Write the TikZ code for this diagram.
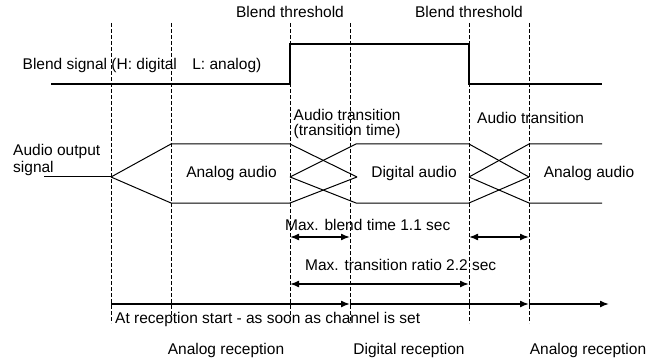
\documentclass[tikz,border=0pt]{standalone}
\usepackage{fontspec}
\setmainfont{Liberation Sans}
\usepackage{tikz}
\usetikzlibrary{arrows.meta,positioning}

\begin{document}
\begin{tikzpicture}[x=1pt,y=1pt,yscale=-1,
  font=\fontsize{15.5}{16}\selectfont,
  every node/.style={inner sep=0pt},
  guide/.style={dash pattern=on 4pt off 2pt,line width=0.8pt},
  blend/.style={line width=2.8pt},
  audio/.style={line width=1pt},
  span/.style={line width=1.5pt,{Latex[length=9pt,width=7pt]}-{Latex[length=9pt,width=7pt]}},
  time/.style={line width=1.5pt,-{Latex[length=9pt,width=7pt]}}]
\useasboundingbox (0,0) rectangle (658,358);

%Straight Lines [guides]
\draw [guide] (111,23) -- (111,323) ;
\draw [guide] (171,23) -- (171,323) ;
\draw [guide] (290,23) -- (290,323) ;
\draw [guide] (350,23) -- (350,323) ;
\draw [guide] (469,23) -- (469,323) ;
\draw [guide] (529,23) -- (529,323) ;

%Shape: Blend signal
\draw [blend] (51,84) -- (290,84) -- (290,44) -- (469,44) -- (469,84) -- (602,84) ;

%Shape: Analog audio (start)
\draw [audio] (44,177) -- (111,177) ;
\draw [audio] (111,177) -- (171,144) -- (290,144) -- (357,177) ;
\draw [audio] (111,177) -- (171,203) -- (290,203) -- (357,177) ;
%Shape: Digital audio
\draw [audio] (290,177) -- (356,144) -- (469,144) -- (529,177) ;
\draw [audio] (290,177) -- (356,203) -- (469,203) -- (529,177) ;
%Shape: Analog audio (end)
\draw [audio] (469,177) -- (529,144) -- (602,144) ;
\draw [audio] (469,177) -- (529,203) -- (602,203) ;

%Arrows
\draw [span] (290,237) -- (350,237) ;
\draw [span] (469,237) -- (529,237) ;
\draw [span] (290,284) -- (469,284) ;
\draw [time] (111,304) -- (350,304) ;
\draw [time] (350,304) -- (529,304) ;
\draw [time] (529,304) -- (609,304) ;

% Text Node
\draw (290,18) node (thrOn) [anchor=base] {Blend threshold};
\draw (469,18) node (thrOff) [anchor=base] {Blend threshold};
\draw (22.5,70) node (blendLbl) [anchor=base west] {Blend signal (H: digital\hspace{1em}L: analog)};
\draw (13,156) node (outLbl) [anchor=base west] {Audio output};
\draw (13,172) node (outLbl2) [anchor=base west] {signal};
\draw (231.5,177.5) node (anaA) [anchor=base] {Analog audio};
\draw (414,177.5) node (digA) [anchor=base] {Digital audio};
\draw (589,177.5) node (anaB) [anchor=base] {Analog audio};
\draw (293.5,121) node (transA) [anchor=base west] {Audio transition};
\draw (293.5,136) node (transA2) [anchor=base west] {(transition time)};
\draw (477,124) node (transB) [anchor=base west] {Audio transition};
\draw (285,230) node (blendTime) [anchor=base west] {Max. blend time 1.1 sec};
\draw (305,270) node (transRatio) [anchor=base west] {Max. transition ratio 2.2 sec};
\draw (115,323) node (recStart) [anchor=base west] {At reception start - as soon as channel is set};
\draw (226,354) node (recAnaA) [anchor=base] {Analog reception};
\draw (409,354) node (recDig) [anchor=base] {Digital reception};
\draw (588,354) node (recAnaB) [anchor=base] {Analog reception};
\end{tikzpicture}
\end{document}
